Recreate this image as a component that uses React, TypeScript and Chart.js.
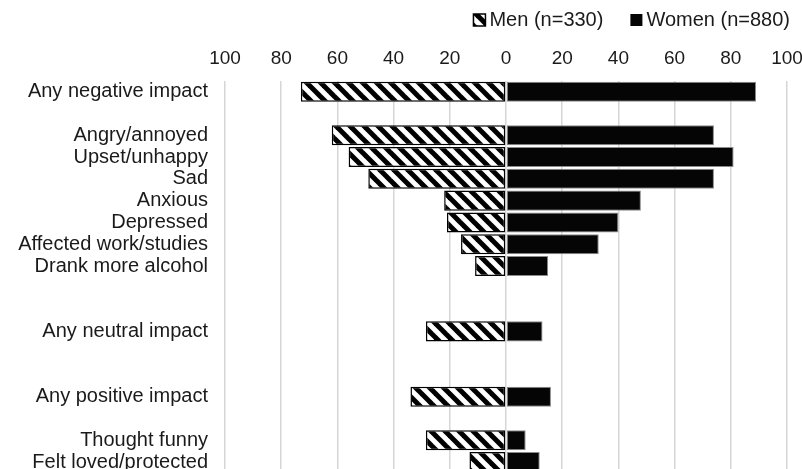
import React, { useEffect, useRef } from "react";
import { Chart, registerables } from "chart.js";

Chart.register(...registerables);

const categories: string[] = [
  "Any negative impact",
  "",
  "Angry/annoyed",
  "Upset/unhappy",
  "Sad",
  "Anxious",
  "Depressed",
  "Affected work/studies",
  "Drank more alcohol",
  "",
  "",
  "Any neutral impact",
  "",
  "",
  "Any positive impact",
  "",
  "Thought funny",
  "Felt loved/protected",
];

const menValues: (number | null)[] = [73, null, 62, 56, 49, 22, 21, 16, 11, null, null, 28.5, null, null, 34, null, 28.5, 13];
const womenValues: (number | null)[] = [89, null, 74, 81, 74, 48, 40, 33, 15, null, null, 13, null, null, 16, null, 7, 12];

const menLabel = "Men (n=330)";
const womenLabel = "Women (n=880)";

const FONT = "'Liberation Sans', Arial, sans-serif";
const TEXT = "#1a1a1a";

function makeHatch(): CanvasPattern | string {
  const s = 14;
  const c = document.createElement("canvas");
  c.width = s;
  c.height = s;
  const g = c.getContext("2d");
  if (!g) return "#fff";
  g.fillStyle = "#ffffff";
  g.fillRect(0, 0, s, s);
  g.strokeStyle = "#000000";
  g.lineWidth = 5;
  g.lineCap = "square";
  for (let k = -1; k <= 1; k++) {
    g.beginPath();
    g.moveTo(k * s - 2, -2);
    g.lineTo(k * s + s + 2, s + 2);
    g.stroke();
  }
  const p = g.createPattern(c, "repeat");
  return p || "#fff";
}

export default function App() {
  const ref = useRef<HTMLCanvasElement | null>(null);

  useEffect(() => {
    const canvas = ref.current;
    if (!canvas) return;
    const hatch = makeHatch();

    const legendPlugin = {
      id: "customLegend",
      afterDraw(chart: any) {
        const ctx = chart.ctx as CanvasRenderingContext2D;
        ctx.save();
        ctx.font = `20px ${FONT}`;
        ctx.textBaseline = "middle";
        ctx.textAlign = "left";
        const yc = 20;
        const box = 12;
        const gapBoxText = 4;
        const gapItems = 27;
        const wW = ctx.measureText(womenLabel).width;
        const wM = ctx.measureText(menLabel).width;
        const womenTextX = 790 - wW;
        const womenBoxX = womenTextX - gapBoxText - box;
        const menTextX = womenBoxX - gapItems - wM;
        const menBoxX = menTextX - gapBoxText - box;
        ctx.fillStyle = hatch as any;
        ctx.fillRect(menBoxX, yc - box / 2, box, box);
        ctx.strokeStyle = "#000";
        ctx.lineWidth = 1.5;
        ctx.strokeRect(menBoxX, yc - box / 2, box, box);
        ctx.fillStyle = "#050505";
        ctx.fillRect(womenBoxX, yc - box / 2, box, box);
        ctx.fillStyle = TEXT;
        ctx.fillText(menLabel, menTextX, yc);
        ctx.fillText(womenLabel, womenTextX, yc);
        ctx.restore();
      },
    };

    const chart = new Chart(canvas, {
      type: "bar",
      data: {
        labels: categories,
        datasets: [
          {
            label: menLabel,
            data: menValues.map((v) => (v === null ? null : -v)),
            backgroundColor: hatch as any,
            borderColor: "#000000",
            borderWidth: 1.5,
            borderSkipped: false,
            barPercentage: 0.92,
            categoryPercentage: 1,
          },
          {
            label: womenLabel,
            data: womenValues,
            backgroundColor: "#050505",
            borderColor: "#8a8a8a",
            borderWidth: 1,
            borderSkipped: false,
            barPercentage: 0.92,
            categoryPercentage: 1,
          },
        ],
      },
      options: {
        indexAxis: "y",
        responsive: false,
        animation: false,
        devicePixelRatio: 1,
        layout: { padding: { top: 36, bottom: 7, left: 0, right: 0 } },
        plugins: {
          legend: { display: false },
          tooltip: { enabled: false },
        },
        scales: {
          x: {
            position: "top",
            stacked: true,
            min: -100,
            max: 100,
            border: { display: false },
            grid: { color: "#d6d6d6", lineWidth: 1.5, drawTicks: false },
            ticks: {
              stepSize: 20,
              padding: 11,
              color: TEXT,
              font: { family: FONT, size: 19 },
              maxRotation: 0,
              callback: (v: any) => String(Math.abs(Number(v))),
            },
            afterFit: (scale: any) => {
              scale.paddingRight = 15;
              scale.paddingLeft = 0;
            },
          },
          y: {
            stacked: true,
            border: { display: false },
            grid: { display: false, drawTicks: false },
            ticks: {
              autoSkip: false,
              padding: 17,
              color: TEXT,
              font: { family: FONT, size: 20 },
            },
            afterFit: (scale: any) => {
              scale.width = 225;
              scale.paddingTop = 0;
              scale.paddingBottom = 0;
            },
          },
        },
      },
      plugins: [legendPlugin],
    } as any);

    return () => {
      chart.destroy();
    };
  }, []);

  return (
    <div
      style={{
        position: "fixed",
        left: 0,
        top: 0,
        width: 802,
        height: 469,
        overflow: "hidden",
        background: "#fff",
      }}
    >
      <canvas ref={ref} width={802} height={480} style={{ display: "block" }} />
    </div>
  );
}
